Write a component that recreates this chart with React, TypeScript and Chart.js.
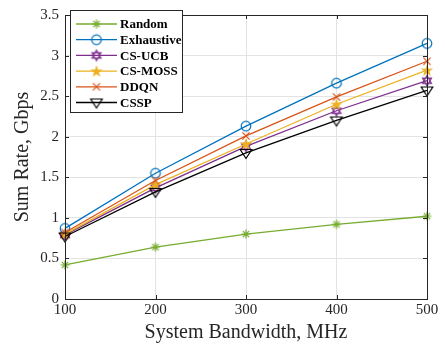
import React, { useEffect, useRef } from "react";
import { Chart, registerables } from "chart.js";

Chart.register(...registerables);

const bandwidths = [100, 200, 300, 400, 500];
const randomRate = [0.42, 0.64, 0.80, 0.92, 1.02];
const exhaustiveRate = [0.87, 1.55, 2.13, 2.66, 3.15];
const csUcbRate = [0.79, 1.37, 1.88, 2.32, 2.69];
const csMossRate = [0.80, 1.41, 1.91, 2.40, 2.82];
const ddqnRate = [0.82, 1.46, 2.01, 2.49, 2.93];
const csspRate = [0.77, 1.32, 1.80, 2.20, 2.57];

const seriesNames = ["Random", "Exhaustive", "CS-UCB", "CS-MOSS", "DDQN", "CSSP"];
const seriesColors = ["#77AC30", "#0072BD", "#7E2F8E", "#EDB120", "#D95319", "#000000"];
const seriesMarkers = ["asterisk", "circle", "hexagram", "pentagram", "x", "downTriangle"];

const SERIF = "'Liberation Serif', 'DejaVu Serif', serif";

function makeMarker(kind: string, color: string): HTMLCanvasElement {
  const s = 16;
  const c = document.createElement("canvas");
  c.width = s;
  c.height = s;
  const ctx = c.getContext("2d")!;
  const cx = s / 2, cy = s / 2;
  ctx.strokeStyle = color;
  ctx.fillStyle = color;
  ctx.lineWidth = 1.2;
  ctx.beginPath();
  if (kind === "asterisk") {
    const r = 4.5;
    for (let i = 0; i < 4; i++) {
      const a = (i * Math.PI) / 4;
      ctx.moveTo(cx - r * Math.cos(a), cy - r * Math.sin(a));
      ctx.lineTo(cx + r * Math.cos(a), cy + r * Math.sin(a));
    }
    ctx.stroke();
  } else if (kind === "circle") {
    ctx.arc(cx, cy, 4.8, 0, Math.PI * 2);
    ctx.stroke();
  } else if (kind === "hexagram") {
    const r = 5.2;
    for (let t = 0; t < 2; t++) {
      for (let i = 0; i < 3; i++) {
        const a = -Math.PI / 2 + t * Math.PI + (i * 2 * Math.PI) / 3;
        const x = cx + r * Math.cos(a), y = cy + r * Math.sin(a);
        if (i === 0) ctx.moveTo(x, y);
        else ctx.lineTo(x, y);
      }
      ctx.closePath();
    }
    ctx.stroke();
  } else if (kind === "pentagram") {
    const R = 6.5, ri = 2.6;
    for (let i = 0; i < 10; i++) {
      const a = -Math.PI / 2 + (i * Math.PI) / 5;
      const r = i % 2 === 0 ? R : ri;
      const x = cx + r * Math.cos(a), y = cy + 0.5 + r * Math.sin(a);
      if (i === 0) ctx.moveTo(x, y);
      else ctx.lineTo(x, y);
    }
    ctx.closePath();
    ctx.fill();
  } else if (kind === "x") {
    const r = 3.6;
    ctx.moveTo(cx - r, cy - r);
    ctx.lineTo(cx + r, cy + r);
    ctx.moveTo(cx - r, cy + r);
    ctx.lineTo(cx + r, cy - r);
    ctx.stroke();
  } else if (kind === "downTriangle") {
    const r = 5.8;
    ctx.moveTo(cx - r, cy - r * 0.6);
    ctx.lineTo(cx + r, cy - r * 0.6);
    ctx.lineTo(cx, cy + r * 0.95);
    ctx.closePath();
    ctx.stroke();
  }
  return c;
}

export default function App() {
  const ref = useRef<HTMLCanvasElement | null>(null);

  useEffect(() => {
    document.body.style.margin = "0";
    const markers = seriesMarkers.map((m, i) => makeMarker(m, seriesColors[i]));
    const allData = [randomRate, exhaustiveRate, csUcbRate, csMossRate, ddqnRate, csspRate];

    const frame = {
      id: "matlabFrame",
      afterDraw(chart: any) {
        const { ctx, chartArea: a, scales } = chart;
        ctx.save();
        ctx.strokeStyle = "#262626";
        ctx.lineWidth = 1;
        ctx.strokeRect(Math.round(a.left) + 0.5, Math.round(a.top) + 0.5, Math.round(a.right - a.left), Math.round(a.bottom - a.top));
        const tl = 4;
        ctx.beginPath();
        scales.x.ticks.forEach((t: any) => {
          const x = Math.round(scales.x.getPixelForValue(t.value)) + 0.5;
          ctx.moveTo(x, a.bottom);
          ctx.lineTo(x, a.bottom - tl);
          ctx.moveTo(x, a.top);
          ctx.lineTo(x, a.top + tl);
        });
        scales.y.ticks.forEach((t: any) => {
          const y = Math.round(scales.y.getPixelForValue(t.value)) + 0.5;
          ctx.moveTo(a.left, y);
          ctx.lineTo(a.left + tl, y);
          ctx.moveTo(a.right, y);
          ctx.lineTo(a.right - tl, y);
        });
        ctx.stroke();

        // legend
        const lx = 70.5, ly = 10.5, lw = 112, lh = 102;
        ctx.fillStyle = "#ffffff";
        ctx.fillRect(lx, ly, lw, lh);
        ctx.strokeStyle = "#262626";
        ctx.strokeRect(lx, ly, lw, lh);
        ctx.font = "bold 13px " + SERIF;
        ctx.textBaseline = "middle";
        chart.data.datasets.forEach((ds: any, i: number) => {
          const y = 24 + i * 15.7;
          ctx.strokeStyle = ds.borderColor;
          ctx.lineWidth = 1.3;
          ctx.beginPath();
          ctx.moveTo(76, y);
          ctx.lineTo(117, y);
          ctx.stroke();
          ctx.drawImage(markers[i], 96.5 - 8, y - 8);
          ctx.fillStyle = "#000";
          ctx.fillText(ds.label, 120, y + 1);
        });
        ctx.restore();
      },
    };

    const chart = new Chart(ref.current!, {
      type: "line",
      data: {
        labels: bandwidths,
        datasets: seriesNames.map((name, i) => ({
          label: name,
          data: bandwidths.map((b, j) => ({ x: b, y: allData[i][j] })),
          borderColor: seriesColors[i],
          backgroundColor: seriesColors[i],
          borderWidth: 1.3,
          pointStyle: markers[i],
          pointRadius: 6,
          order: seriesNames.length - i,
          tension: 0,
          clip: false,
        })),
      },
      options: {
        animation: false,
        responsive: false,
        layout: { padding: { top: 10, right: 18, left: 0, bottom: 0 } },
        plugins: { legend: { display: false }, tooltip: { enabled: false } },
        scales: {
          x: {
            type: "linear",
            min: 100,
            max: 500,
            ticks: { stepSize: 100, color: "#262626", font: { family: SERIF, size: 15 }, padding: 2, maxRotation: 0 },
            grid: { color: "#e3e3e3", drawTicks: false },
            border: { display: false },
            title: { display: true, text: "System Bandwidth, MHz", color: "#262626", font: { family: SERIF, size: 20 }, padding: { top: 0, bottom: 6 } },
            afterFit: (s: any) => { s.height = 52; },
          },
          y: {
            min: 0,
            max: 3.5,
            ticks: {
              stepSize: 0.5,
              color: "#262626",
              font: { family: SERIF, size: 15 },
              padding: 6,
              callback: (v: any) => String(Math.round(Number(v) * 10) / 10),
            },
            grid: { color: "#e3e3e3", drawTicks: false },
            border: { display: false },
            title: { display: true, text: "Sum Rate, Gbps", color: "#262626", font: { family: SERIF, size: 20 }, padding: { top: 11, bottom: 0 } },
            afterFit: (s: any) => { s.width = 65; },
          },
        },
      },
      plugins: [frame],
    } as any);
    return () => chart.destroy();
  }, []);

  return <canvas ref={ref} width={445} height={351} style={{ display: "block" }} />;
}
